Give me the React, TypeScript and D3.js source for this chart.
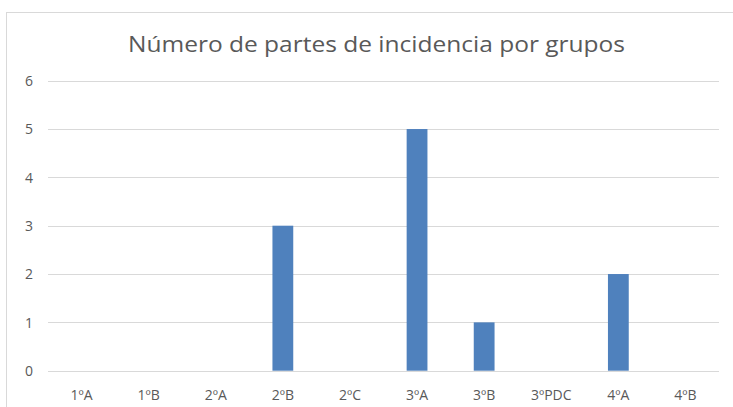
import React, { useRef, useEffect } from 'react';
import * as d3 from 'd3';

const categories = ['1ºA', '1ºB', '2ºA', '2ºB', '2ºC', '3ºA', '3ºB', '3ºPDC', '4ºA', '4ºB'];
const values = [0, 0, 0, 3, 0, 5, 1, 0, 2, 0];
const yTicks = [0, 1, 2, 3, 4, 5, 6];
const title = 'Número de partes de incidencia por grupos';

const App = () => {
  const svgRef = useRef<SVGSVGElement>(null);

  useEffect(() => {
    const svg = d3.select(svgRef.current);
    svg.selectAll('*').remove();

    const width = 733;
    const height = 407;
    const margin = { top: 80.7, right: 14, bottom: 36.3, left: 48 };

    // chart border
    svg.append('rect')
      .attr('x', 6.5)
      .attr('y', 12.5)
      .attr('width', 760)
      .attr('height', 440)
      .attr('fill', '#fff')
      .attr('stroke', '#d9d9d9');

    svg.append('text')
      .attr('x', 128)
      .attr('y', 52)
      .attr('textLength', 497)
      .attr('lengthAdjust', 'spacingAndGlyphs')
      .attr('font-family', 'Open Sans, sans-serif')
      .attr('font-size', 21.5)
      .attr('fill', '#595959')
      .text(title);

    const x = d3.scaleBand()
      .domain(categories)
      .range([margin.left, width - margin.right])
      .paddingInner(0.69)
      .paddingOuter(0.345);

    const y = d3.scaleLinear()
      .domain([0, 6])
      .range([height - margin.bottom, margin.top]);

    // gridlines
    svg.append('g')
      .selectAll('line')
      .data(yTicks)
      .join('line')
      .attr('x1', margin.left)
      .attr('x2', width - margin.right)
      .attr('y1', d => Math.round(y(d)) + 0.5)
      .attr('y2', d => Math.round(y(d)) + 0.5)
      .attr('stroke', '#d9d9d9')
      .attr('stroke-width', 1);

    // y labels
    svg.append('g')
      .selectAll('text')
      .data(yTicks)
      .join('text')
      .attr('x', 33)
      .attr('y', d => y(d) + 5.2)
      .attr('text-anchor', 'end')
      .attr('font-family', 'Open Sans, sans-serif')
      .attr('font-size', 14)
      .attr('fill', '#595959')
      .text(d => d);

    // bars
    svg.append('g')
      .selectAll('rect')
      .data(values)
      .join('rect')
      .attr('x', (d, i) => x(categories[i]) as number)
      .attr('y', d => y(d))
      .attr('width', x.bandwidth())
      .attr('height', d => y(0) - y(d))
      .attr('fill', '#4f81bd');

    // x labels
    svg.append('g')
      .selectAll('text')
      .data(categories)
      .join('text')
      .attr('x', d => (x(d) as number) + x.bandwidth() / 2)
      .attr('y', 400)
      .attr('text-anchor', 'middle')
      .attr('font-family', 'Open Sans, sans-serif')
      .attr('font-size', 14)
      .attr('fill', '#595959')
      .text(d => d);
  }, []);

  return (
    <svg
      ref={svgRef}
      width={733}
      height={407}
      style={{ position: 'absolute', left: 0, top: 0, background: '#fff' }}
    />
  );
};

export default App;
